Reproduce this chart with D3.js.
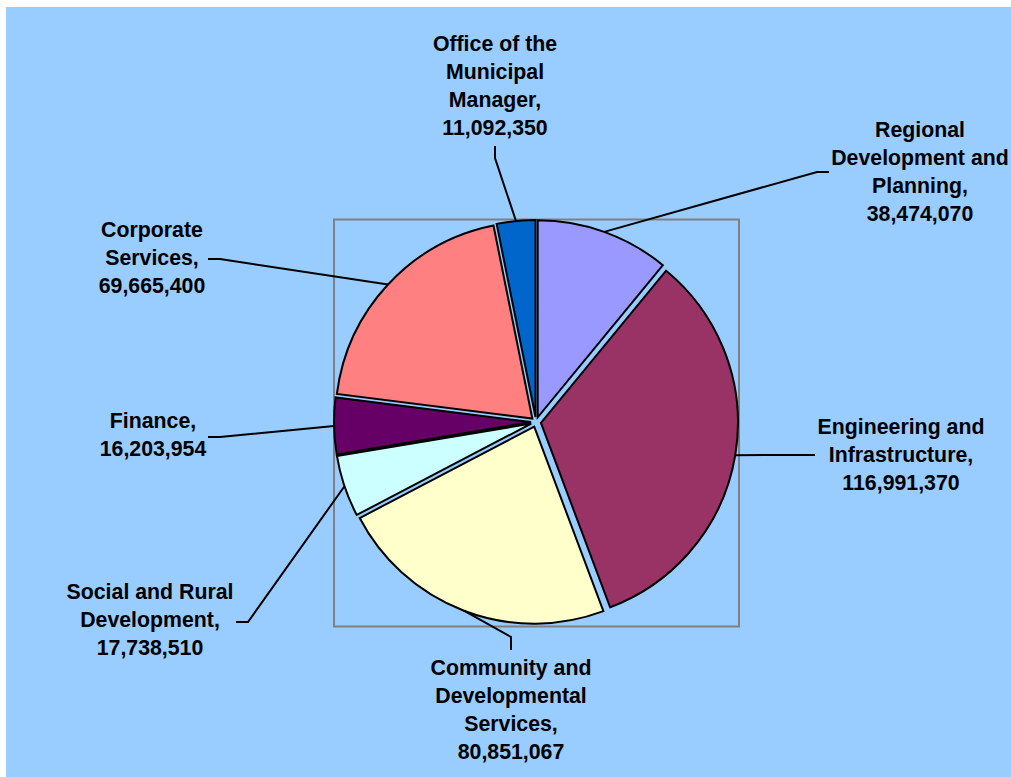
<!DOCTYPE html>
<html>
<head>
<meta charset="utf-8">
<script src="https://cdn.jsdelivr.net/npm/d3@7"></script>
<style>
  html, body { margin: 0; padding: 0; background: #ffffff; overflow: hidden; }
  svg { display: block; }
  text { font-family: "Liberation Sans", Arial, sans-serif; font-weight: bold; }
</style>
</head>
<body>
<svg id="chart" width="1011" height="777"></svg>
<script>
// Budget allocation per department (Rand)
const departments = [
  "Regional Development and Planning",
  "Engineering and Infrastructure",
  "Community and Developmental Services",
  "Social and Rural Development",
  "Finance",
  "Corporate Services",
  "Office of the Municipal Manager"
];
const budgets = [38474070, 116991370, 80851067, 17738510, 16203954, 69665400, 11092350];
// Label text, split over lines (value appended as last line)
const labelLines = [
  ["Regional", "Development and", "Planning,"],
  ["Engineering and", "Infrastructure,"],
  ["Community and", "Developmental", "Services,"],
  ["Social and Rural", "Development,"],
  ["Finance,"],
  ["Corporate", "Services,"],
  ["Office of the", "Municipal", "Manager,"]
];
const sliceColors = ["#9999FF", "#993366", "#FFFFCC", "#CCFFFF", "#660066", "#FF8080", "#0066CC"];

// Label placement: text centre x, first baseline, and leader elbow points
const labelLayout = [
  { x: 920, y: 137, lead: [[829, 172], [817, 172]] },
  { x: 901, y: 434, lead: [[815, 455], [803, 455]] },
  { x: 511, y: 675, lead: [[511, 650], [511, 637]] },
  { x: 150, y: 599, lead: [[236, 622], [248, 622]] },
  { x: 153, y: 428, lead: [[208, 437], [220, 437]] },
  { x: 152, y: 237, lead: [[208, 259], [220, 259]] },
  { x: 495, y: 51,  lead: [[495, 146], [495, 158]] }
];

const svg = d3.select("#chart");
const W = 1011, H = 777;

// chart area background
svg.append("rect").attr("x", 6).attr("y", 7).attr("width", W - 6).attr("height", H - 7)
  .attr("fill", "#99CCFF");

// plot area frame
svg.append("rect").attr("x", 334).attr("y", 219.5).attr("width", 405).attr("height", 407)
  .attr("fill", "none").attr("stroke", "#808080").attr("stroke-width", 2);

const cx = 536, cy = 422, R = 197, explode = 5;
const fmt = d3.format(",");

const pie = d3.pie().sort(null).value(d => d.value).startAngle(0).endAngle(2 * Math.PI);
const data = departments.map((name, i) => ({ name, value: budgets[i], i }));
const arcs = pie(data);
const arc = d3.arc().innerRadius(0).outerRadius(R);

const g = svg.append("g").attr("transform", `translate(${cx},${cy})`);

// shift along the slice bisector
function offset(d, dist) {
  const m = (d.startAngle + d.endAngle) / 2;
  return [Math.sin(m) * dist, -Math.cos(m) * dist];
}

g.selectAll("path.slice").data(arcs).join("path")
  .attr("class", "slice")
  .attr("d", arc)
  .attr("transform", d => { const o = offset(d, explode); return `translate(${o[0]},${o[1]})`; })
  .attr("fill", d => sliceColors[d.data.i])
  .attr("stroke", "#000")
  .attr("stroke-width", 2)
  .attr("stroke-linejoin", "miter");

// leader lines from label to slice edge
const line = d3.line();
svg.selectAll("path.leader").data(arcs).join("path")
  .attr("class", "leader")
  .attr("d", d => {
    const lay = labelLayout[d.data.i];
    const o = offset(d, explode + R);
    return line([lay.lead[0], lay.lead[1], [cx + o[0], cy + o[1]]]);
  })
  .attr("fill", "none").attr("stroke", "#000").attr("stroke-width", 2);

// data labels
const labels = svg.selectAll("text.lbl").data(arcs).join("text")
  .attr("class", "lbl")
  .attr("text-anchor", "middle")
  .attr("font-size", "21.3px")
  .attr("fill", "#000");

labels.each(function(d) {
  const lay = labelLayout[d.data.i];
  const lines = labelLines[d.data.i].concat([fmt(d.data.value)]);
  d3.select(this).selectAll("tspan").data(lines).join("tspan")
    .attr("x", lay.x)
    .attr("y", (t, k) => lay.y + k * 28)
    .text(t => t);
});
</script>
</body>
</html>
